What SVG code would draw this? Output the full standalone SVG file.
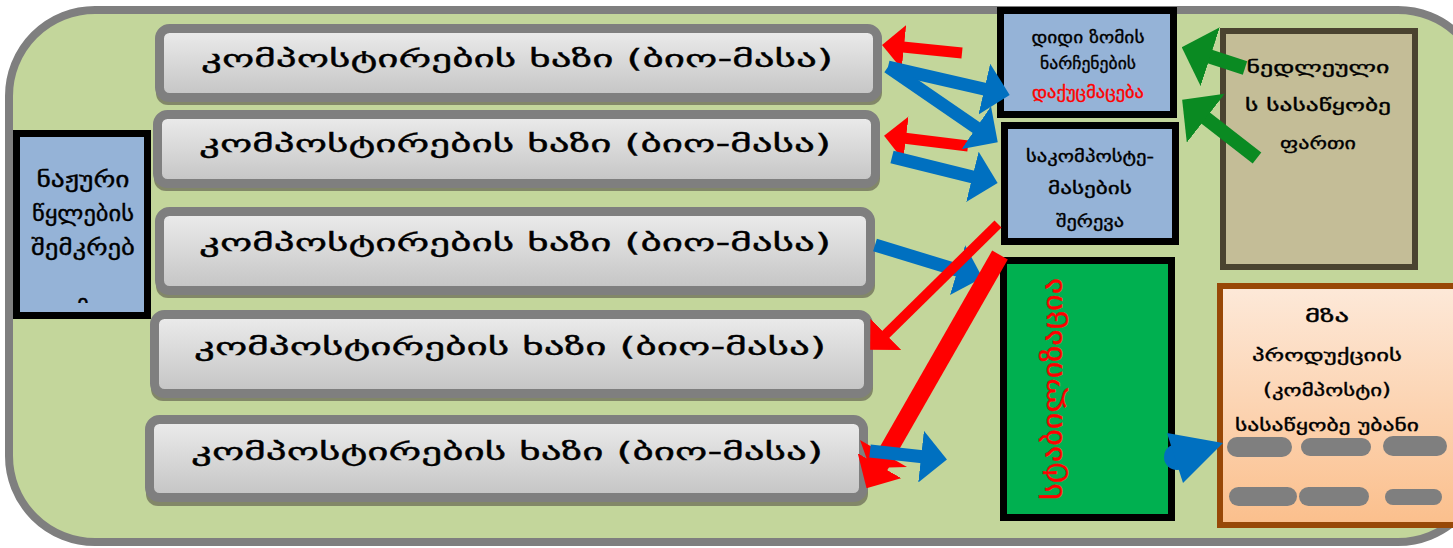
<svg xmlns="http://www.w3.org/2000/svg" width="1453" height="548" viewBox="0 0 1453 548">
  <style>
    .geo { font-family: "DejaVu Sans", "Noto Sans", sans-serif; }
    .geo text { stroke: #000; stroke-width: 0.35; }
    .geo text.warn { fill: #ff0000; stroke: #ff0000; }
    .bar { fill: url(#barFill); stroke: #7f7f7f; stroke-width: 9; }
    .barShadow { fill: #77795f; opacity: 0.85; }
    .barText { font-size: 24px; fill: #000; text-anchor: middle; }
    .blueBox { fill: #95b3d7; stroke: #000; stroke-width: 7; }
    .boxText { font-size: 17px; fill: #000; text-anchor: middle; }
    .pill { fill: #7f7f7f; }
    .red { stroke: #ff0000; fill: none; }
    .blue { stroke: #0070c0; fill: none; }
    .green { stroke: #0a8a22; fill: none; }
  </style>
  <defs>
    <linearGradient id="barFill" x1="0" y1="0" x2="0" y2="1">
      <stop offset="0" stop-color="#ececec"/>
      <stop offset="1" stop-color="#c4c4c4"/>
    </linearGradient>
    <linearGradient id="stockFill" x1="0" y1="0" x2="0" y2="1">
      <stop offset="0" stop-color="#fde9d9"/>
      <stop offset="1" stop-color="#fbbf8c"/>
    </linearGradient>
    <clipPath id="collectorClip">
      <rect x="20" y="137" width="124" height="166"/>
    </clipPath>
    <marker id="headRed" markerUnits="userSpaceOnUse" markerWidth="22" markerHeight="44" refX="11" refY="22" orient="auto" viewBox="0 0 22 44">
      <path d="M0,0 L22,22 L0,44 Z" fill="#ff0000"/>
    </marker>
    <marker id="headRedBig" markerUnits="userSpaceOnUse" markerWidth="26" markerHeight="50" refX="13" refY="25" orient="auto" viewBox="0 0 26 50">
      <path d="M0,0 L26,25 L0,50 Z" fill="#ff0000"/>
    </marker>
    <marker id="headBlue" markerUnits="userSpaceOnUse" markerWidth="26" markerHeight="52" refX="13" refY="26" orient="auto" viewBox="0 0 26 52">
      <path d="M0,0 L26,26 L0,52 Z" fill="#0070c0"/>
    </marker>
    <marker id="headGreen" markerUnits="userSpaceOnUse" markerWidth="30" markerHeight="62" refX="15" refY="31" orient="auto" viewBox="0 0 30 62">
      <path d="M0,0 L30,31 L0,62 Z" fill="#0a8a22"/>
    </marker>
  </defs>

  <!-- site background -->
  <g id="site">
    <rect x="9" y="10" width="1475" height="532" rx="86" fill="#c3d69b" stroke="#7f7f7f" stroke-width="8"/>
  </g>

  <!-- composting lines -->
  <g id="line1" class="geo">
    <rect class="barShadow" x="156" y="29" width="726" height="76" rx="12"/>
    <rect class="bar" x="159.5" y="28.5" width="718" height="69" rx="10"/>
    <text class="barText" x="517" y="67" textLength="632" lengthAdjust="spacingAndGlyphs">კომპოსტირების ხაზი (ბიო-მასა)</text>
  </g>
  <g id="line2" class="geo">
    <rect class="barShadow" x="154" y="115" width="726" height="76" rx="12"/>
    <rect class="bar" x="157.5" y="114.5" width="718" height="69" rx="10"/>
    <text class="barText" x="515" y="152" textLength="632" lengthAdjust="spacingAndGlyphs">კომპოსტირების ხაზი (ბიო-მასა)</text>
  </g>
  <g id="line3" class="geo">
    <rect class="barShadow" x="156" y="212" width="719" height="86" rx="12"/>
    <rect class="bar" x="159.5" y="211.5" width="711" height="79" rx="10"/>
    <text class="barText" x="515" y="251" textLength="632" lengthAdjust="spacingAndGlyphs">კომპოსტირების ხაზი (ბიო-მასა)</text>
  </g>
  <g id="line4" class="geo">
    <rect class="barShadow" x="151" y="315" width="722" height="86" rx="12"/>
    <rect class="bar" x="154.5" y="314.5" width="714" height="79" rx="10"/>
    <text class="barText" x="510" y="355" textLength="632" lengthAdjust="spacingAndGlyphs">კომპოსტირების ხაზი (ბიო-მასა)</text>
  </g>
  <g id="line5" class="geo">
    <rect class="barShadow" x="146" y="420" width="722" height="86" rx="12"/>
    <rect class="bar" x="149.5" y="419.5" width="714" height="78" rx="10"/>
    <text class="barText" x="507" y="460" textLength="632" lengthAdjust="spacingAndGlyphs">კომპოსტირების ხაზი (ბიო-მასა)</text>
  </g>

  <!-- leachate collector -->
  <g id="collector" class="geo">
    <rect class="blueBox" x="16.5" y="133.5" width="131" height="182"/>
    <g clip-path="url(#collectorClip)" font-size="22" text-anchor="middle" fill="#000">
      <text x="83" y="187" textLength="93" lengthAdjust="spacingAndGlyphs">ნაჟური</text>
      <text x="83" y="221" textLength="102" lengthAdjust="spacingAndGlyphs">წყლების</text>
      <text x="83" y="255" textLength="104" lengthAdjust="spacingAndGlyphs">შემკრებ</text>
      <text x="83" y="310">ი</text>
    </g>
  </g>

  <!-- shredding -->
  <g id="shredder" class="geo">
    <rect class="blueBox" x="1000.5" y="10.5" width="173" height="104"/>
    <text class="boxText" x="1088" y="43" font-size="17" textLength="113" lengthAdjust="spacingAndGlyphs">დიდი ზომის</text>
    <text class="boxText" x="1088" y="69" font-size="17" textLength="96" lengthAdjust="spacingAndGlyphs">ნარჩენების</text>
    <text class="boxText warn" x="1088" y="98" font-size="17" textLength="112" lengthAdjust="spacingAndGlyphs">დაქუცმაცება</text>
  </g>

  <!-- mixing -->
  <g id="mixer" class="geo">
    <rect class="blueBox" x="1004.5" y="125.5" width="171" height="116"/>
    <text class="boxText" x="1090" y="162" font-size="19" textLength="128" lengthAdjust="spacingAndGlyphs">საკომპოსტე-</text>
    <text class="boxText" x="1090" y="194" font-size="19" textLength="84" lengthAdjust="spacingAndGlyphs">მასების</text>
    <text class="boxText" x="1090" y="227" font-size="19" textLength="68" lengthAdjust="spacingAndGlyphs">შერევა</text>
  </g>

  <!-- raw material storage -->
  <g id="rawStore" class="geo">
    <rect x="1223" y="31" width="192" height="236" fill="#c4bd97" stroke="#4a4330" stroke-width="6"/>
    <text class="boxText" x="1318" y="73" font-size="23" textLength="143" lengthAdjust="spacingAndGlyphs">ნედლეული</text>
    <text class="boxText" x="1318" y="111" font-size="23" textLength="146" lengthAdjust="spacingAndGlyphs">ს სასაწყობე</text>
    <text class="boxText" x="1318" y="149" font-size="23" textLength="76" lengthAdjust="spacingAndGlyphs">ფართი</text>
  </g>

  <!-- stabilisation -->
  <g id="stabilizer" class="geo">
    <rect x="1003.5" y="260.5" width="168" height="257" fill="#00b050" stroke="#000" stroke-width="7"/>
    <text class="warn" transform="translate(1062,389) rotate(-90)" x="0" y="0" font-size="27" text-anchor="middle" textLength="222" lengthAdjust="spacingAndGlyphs">სტაბილიზაცია</text>
  </g>

  <!-- finished product storage -->
  <g id="productStore" class="geo">
    <rect x="1220" y="286" width="245" height="239" fill="url(#stockFill)" stroke="#984807" stroke-width="6"/>
    <text class="boxText" x="1327" y="322" font-size="21" textLength="44" lengthAdjust="spacingAndGlyphs">მზა</text>
    <text class="boxText" x="1327" y="361" font-size="21" textLength="150" lengthAdjust="spacingAndGlyphs">პროდუქციის</text>
    <text class="boxText" x="1327" y="396" font-size="21" textLength="128" lengthAdjust="spacingAndGlyphs">(კომპოსტი)</text>
    <text class="boxText" x="1327" y="431" font-size="21" textLength="184" lengthAdjust="spacingAndGlyphs">სასაწყობე უბანი</text>
    <rect class="pill" x="1227" y="437" width="65" height="20" rx="10"/>
    <rect class="pill" x="1301" y="438" width="70" height="18" rx="9"/>
    <rect class="pill" x="1383" y="436" width="64" height="20" rx="10"/>
    <rect class="pill" x="1229" y="487" width="68" height="19" rx="9.5"/>
    <rect class="pill" x="1299" y="487" width="70" height="19" rx="9.5"/>
    <rect class="pill" x="1385" y="489" width="57" height="16" rx="8"/>
  </g>

  <!-- material flows -->
  <g id="connectors">
    <line class="red" x1="962" y1="53" x2="893" y2="46" stroke-width="11" marker-end="url(#headRed)"/>
    <line class="red" x1="968" y1="146" x2="895" y2="137" stroke-width="11" marker-end="url(#headRed)"/>
    <line class="blue" x1="888" y1="67" x2="997" y2="92" stroke-width="13" marker-end="url(#headBlue)"/>
    <line class="blue" x1="888" y1="67" x2="987" y2="135" stroke-width="13" marker-end="url(#headBlue)"/>
    <line class="blue" x1="892" y1="157" x2="985" y2="180" stroke-width="13" marker-end="url(#headBlue)"/>
    <line class="blue" x1="875" y1="245" x2="970" y2="274" stroke-width="13" marker-end="url(#headBlue)"/>
    <line class="red" x1="998" y1="224" x2="878" y2="342" stroke-width="10" marker-end="url(#headRed)"/>
    <line class="red" x1="1000" y1="255" x2="873" y2="477" stroke-width="18" marker-end="url(#headRedBig)"/>
    <path d="M860,440 L907,467 L870,468 Z" fill="#ff0000"/>
    <line class="blue" x1="870" y1="451" x2="934" y2="458" stroke-width="13" marker-end="url(#headBlue)"/>
    <line class="green" x1="1245" y1="68" x2="1196" y2="52" stroke-width="14" marker-end="url(#headGreen)"/>
    <line class="green" x1="1257" y1="158" x2="1194" y2="109" stroke-width="14" marker-end="url(#headGreen)"/>
    <circle cx="1177" cy="457" r="13" fill="#0070c0"/>
    <path d="M1167,433 L1223,443 L1183,483 Z" fill="#0070c0"/>
  </g>
</svg>
